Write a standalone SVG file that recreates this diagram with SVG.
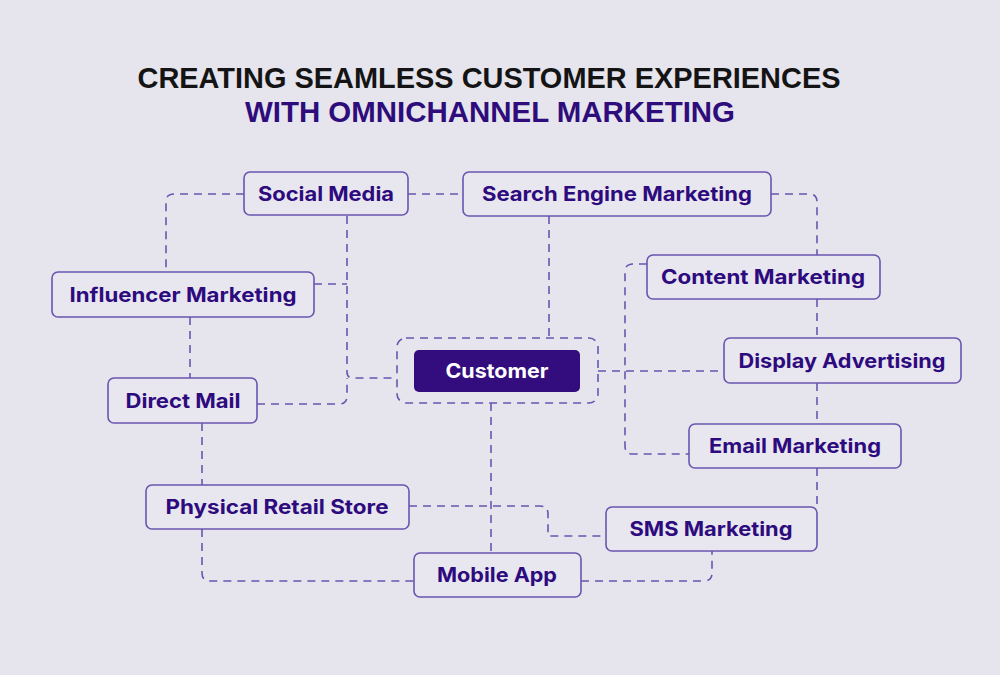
<svg xmlns="http://www.w3.org/2000/svg" width="1000" height="675" viewBox="0 0 1000 675">
<style>
.bg{fill:#e6e4ec}
.node rect{fill:#e8e6ee;stroke:#6a55b0;stroke-width:1.6}
.node text{font-family:Inter,"Liberation Sans",sans-serif;font-weight:700;font-size:20px;fill:#2d0b7e;text-anchor:middle}
#customer rect.core{fill:#330c7e;stroke:none}
#customer text{fill:#ffffff}
.dash{fill:none;stroke:#6a55b0;stroke-width:1.6;stroke-dasharray:8 6}
.t1{font-family:"Liberation Sans",Arial,sans-serif;font-weight:700;font-size:29.5px;fill:#141414;text-anchor:middle}
.t2{font-family:"Liberation Sans",Arial,sans-serif;font-weight:700;font-size:29.5px;fill:#2e0c7c;text-anchor:middle}
</style>
<rect class="bg" x="0" y="0" width="1000" height="675"/>
<g id="title">
<text class="t1" x="489" y="88" textLength="703" lengthAdjust="spacingAndGlyphs">CREATING SEAMLESS CUSTOMER EXPERIENCES</text>
<text class="t2" x="490" y="122" textLength="490" lengthAdjust="spacingAndGlyphs">WITH OMNICHANNEL MARKETING</text>
</g>
<g id="connectors">
<path class="dash" d="M244,194 H174 Q166,194 166,202 V272"/>
<path class="dash" d="M408,194 H463"/>
<path class="dash" d="M347,216 V372 Q347,378 353,378 H397"/>
<path class="dash" d="M314,284 H347"/>
<path class="dash" d="M257,404 H339 Q347,404 347,396 V378"/>
<path class="dash" d="M190,317 V378"/>
<path class="dash" d="M202,423 V485"/>
<path class="dash" d="M202,529 V573 Q202,581 210,581 H414"/>
<path class="dash" d="M581,581 H704 Q712,581 712,573 V551"/>
<path class="dash" d="M409,506 H540 Q548,506 548,514 V536 H606"/>
<path class="dash" d="M491,403 V553"/>
<path class="dash" d="M549,216 V338"/>
<path class="dash" d="M771,194 H809 Q817,194 817,202 V255"/>
<path class="dash" d="M817,299 V338"/>
<path class="dash" d="M817,383 V424"/>
<path class="dash" d="M817,468 V507"/>
<path class="dash" d="M647,264 H633 Q625,264 625,272 V446 Q625,454 633,454 H689"/>
<path class="dash" d="M598,371 H724"/>
</g>
<g id="social-media" class="node"><rect x="244" y="172" width="164" height="43" rx="6"/><text x="326" y="201" textLength="136" lengthAdjust="spacingAndGlyphs">Social Media</text></g>
<g id="search-engine-marketing" class="node"><rect x="463" y="172" width="308" height="44" rx="6"/><text x="617" y="201" textLength="270" lengthAdjust="spacingAndGlyphs">Search Engine Marketing</text></g>
<g id="influencer-marketing" class="node"><rect x="52" y="272" width="262" height="45" rx="6"/><text x="183" y="302" textLength="227" lengthAdjust="spacingAndGlyphs">Influencer Marketing</text></g>
<g id="content-marketing" class="node"><rect x="647" y="255" width="233" height="44" rx="6"/><text x="763" y="284" textLength="204" lengthAdjust="spacingAndGlyphs">Content Marketing</text></g>
<g id="customer" class="node"><rect class="dash" x="397" y="338" width="201" height="65" rx="9" style="fill:none"/><rect class="core" x="414" y="350" width="166" height="42" rx="5"/><text x="497" y="378" textLength="103" lengthAdjust="spacingAndGlyphs">Customer</text></g>
<g id="display-advertising" class="node"><rect x="724" y="338" width="237" height="45" rx="6"/><text x="842" y="368" textLength="207" lengthAdjust="spacingAndGlyphs">Display Advertising</text></g>
<g id="direct-mail" class="node"><rect x="108" y="378" width="149" height="45" rx="6"/><text x="183" y="408" textLength="115" lengthAdjust="spacingAndGlyphs">Direct Mail</text></g>
<g id="email-marketing" class="node"><rect x="689" y="424" width="212" height="44" rx="6"/><text x="795" y="453" textLength="172" lengthAdjust="spacingAndGlyphs">Email Marketing</text></g>
<g id="physical-retail-store" class="node"><rect x="146" y="485" width="263" height="44" rx="6"/><text x="277" y="514" textLength="223" lengthAdjust="spacingAndGlyphs">Physical Retail Store</text></g>
<g id="sms-marketing" class="node"><rect x="606" y="507" width="211" height="44" rx="6"/><text x="711" y="536" textLength="163" lengthAdjust="spacingAndGlyphs">SMS Marketing</text></g>
<g id="mobile-app" class="node"><rect x="414" y="553" width="167" height="44" rx="6"/><text x="497" y="582" textLength="120" lengthAdjust="spacingAndGlyphs">Mobile App</text></g>
</svg>
